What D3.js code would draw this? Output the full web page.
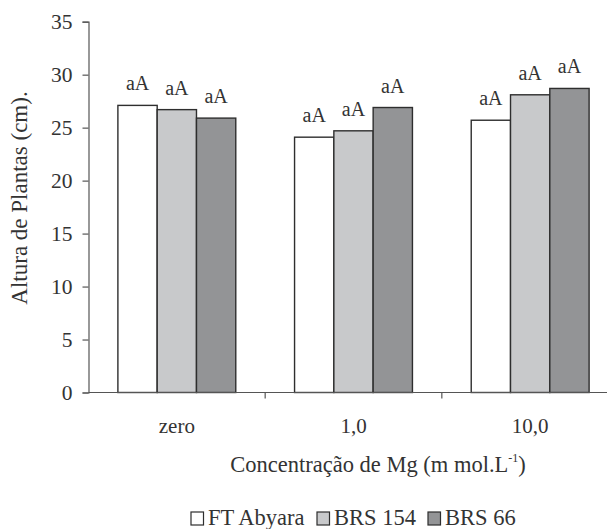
<!DOCTYPE html>
<html>
<head>
<meta charset="utf-8">
<script src="https://cdn.jsdelivr.net/npm/d3@7"></script>
<style>
  html, body { margin: 0; padding: 0; background: #fff; }
  svg { display: block; }
</style>
</head>
<body>
<script>
// Plant height by Mg concentration and cultivar
const categories = ["zero", "1,0", "10,0"];
const series = ["FT Abyara", "BRS 154", "BRS 66"];
const ftAbyara = [27.1, 24.1, 25.7];
const brs154 = [26.7, 24.7, 28.1];
const brs66 = [25.9, 26.9, 28.7];
const letters = [["aA", "aA", "aA"], ["aA", "aA", "aA"], ["aA", "aA", "aA"]];
const yTicks = [0, 5, 10, 15, 20, 25, 30, 35];
const colors = ["#ffffff", "#c8c9cb", "#939496"];

const values = [ftAbyara, brs154, brs66];
const W = 607, H = 529;
const FONT = '"Liberation Serif", "Times New Roman", serif';
const INK = "#333";

const svg = d3.select("body").append("svg")
  .attr("width", W).attr("height", H);

function label(sel) {
  return sel.style("font-family", FONT).attr("fill", INK);
}

const x0 = d3.scaleBand().domain(categories).range([88.5, 618.5]).padding(0);
const x1 = d3.scaleBand().domain(series).range([0, x0.bandwidth()])
  .paddingInner(0).paddingOuter(0.748);
const y = d3.scaleLinear().domain([0, 35]).range([392.5, 21.7]);

// bars
const groups = svg.append("g").selectAll("g")
  .data(categories)
  .join("g")
  .attr("transform", d => `translate(${x0(d)},0)`);

groups.each(function (cat, ci) {
  const g = d3.select(this);
  series.forEach((s, si) => {
    const v = values[si][ci];
    g.append("rect")
      .attr("x", x1(s))
      .attr("y", y(v))
      .attr("width", x1.bandwidth())
      .attr("height", y(0) - y(v))
      .attr("fill", colors[si])
      .attr("stroke", "#2e2e2e")
      .attr("stroke-width", 1.4);
    g.append("text")
      .attr("x", x1(s) + x1.bandwidth() / 2)
      .attr("y", y(v) - 15)
      .attr("text-anchor", "middle")
      .attr("font-size", 20)
      .call(label)
      .text(letters[ci][si]);
  });
});

// y axis
const yAxis = svg.append("g")
  .attr("transform", "translate(88.5,0)")
  .call(d3.axisLeft(y).tickValues(yTicks).tickSize(6).tickPadding(10));
yAxis.select(".domain").attr("stroke", "#555").attr("stroke-width", 1.2);
yAxis.selectAll(".tick line").attr("stroke", "#555").attr("stroke-width", 1.2);
yAxis.selectAll(".tick text")
  .attr("font-size", 21.5)
  .call(label);

// x axis line with boundary ticks
const xAxis = svg.append("g");
xAxis.append("line")
  .attr("x1", x0.range()[0]).attr("x2", x0.range()[1])
  .attr("y1", y(0)).attr("y2", y(0))
  .attr("stroke", "#555").attr("stroke-width", 1.2);
xAxis.selectAll("line.tick")
  .data(categories.slice(1))
  .join("line")
  .attr("class", "tick")
  .attr("x1", d => x0(d)).attr("x2", d => x0(d))
  .attr("y1", y(0)).attr("y2", y(0) + 6)
  .attr("stroke", "#555").attr("stroke-width", 1.2);
xAxis.selectAll("text")
  .data(categories)
  .join("text")
  .attr("x", d => x0(d) + x0.bandwidth() / 2)
  .attr("y", 433)
  .attr("text-anchor", "middle")
  .attr("font-size", 21)
  .call(label)
  .text(d => d);

// axis titles
svg.append("text")
  .attr("transform", "translate(27,198) rotate(-90)")
  .attr("text-anchor", "middle")
  .attr("font-size", 23)
  .call(label)
  .text("Altura de Plantas (cm).");

const xt = svg.append("text")
  .attr("x", 378).attr("y", 472)
  .attr("text-anchor", "middle")
  .attr("font-size", 22.5)
  .call(label);
xt.append("tspan").text("Concentração de Mg (m mol.L");
xt.append("tspan").attr("font-size", 12).attr("dy", -10).text("-1");
xt.append("tspan").attr("dy", 10).text(")");

// legend
const legendX = [191, 317, 428];
const legend = svg.append("g");
series.forEach((s, i) => {
  legend.append("rect")
    .attr("x", legendX[i]).attr("y", 512)
    .attr("width", 12.5).attr("height", 13)
    .attr("fill", colors[i])
    .attr("stroke", "#2e2e2e").attr("stroke-width", 1.2);
  legend.append("text")
    .attr("x", legendX[i] + 17).attr("y", 525)
    .attr("font-size", 22.5)
    .call(label)
    .text(s);
});
</script>
</body>
</html>
